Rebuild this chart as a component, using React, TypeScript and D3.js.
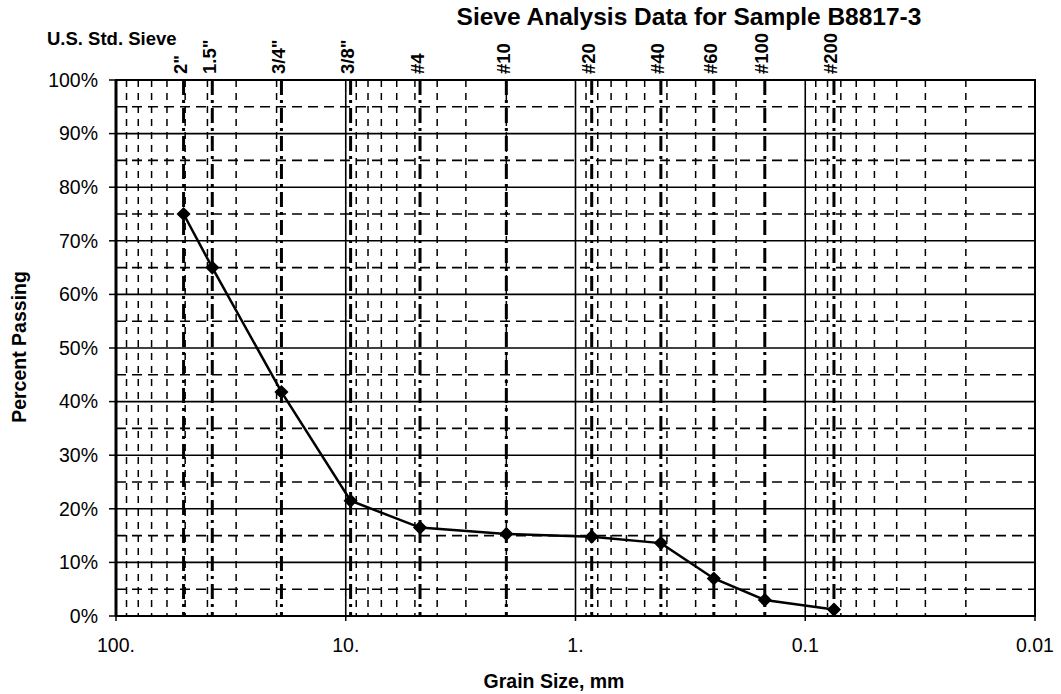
import { useEffect } from 'react';
import * as d3 from 'd3';

// sieve data
const sieveLabels = ['2"', '1.5"', '3/4"', '3/8"', '#4', '#10', '#20', '#40', '#60', '#100', '#200'];
const sieveSizes = [50.8, 38.1, 19.05, 9.525, 4.75, 2.0, 0.85, 0.425, 0.25, 0.15, 0.075];
const percentPassing = [75, 65, 41.8, 21.5, 16.5, 15.3, 14.8, 13.6, 7.0, 3.0, 1.2];

const yTickValues = [0, 10, 20, 30, 40, 50, 60, 70, 80, 90, 100];
const xTickValues = [100, 10, 1, 0.1, 0.01];
const xTickLabels = ['100.', '10.', '1.', '0.1', '0.01'];

const W = 1061;
const H = 694;
const margin = { top: 80, right: 26, bottom: 78, left: 116 };

const FONT = '"Liberation Sans", Arial, sans-serif';

const SieveChart = () => {
  useEffect(() => {
    document.body.style.margin = '0';
  }, []);

  const x = d3.scaleLog().domain([100, 0.01]).range([margin.left, W - margin.right]);
  const y = d3.scaleLinear().domain([0, 100]).range([H - margin.bottom, margin.top]);

  const [x0, x1] = x.range();
  const [y0, y1] = y.range();

  // minor log gridlines (2..9 of each decade)
  const minor: number[] = [];
  [0.01, 0.1, 1, 10].forEach(dec => {
    for (let k = 2; k <= 9; k++) minor.push(dec * k);
  });
  const halfSteps = d3.range(5, 100, 10);

  const points = sieveSizes.map((s, i) => [x(s), y(percentPassing[i])] as [number, number]);
  const line = d3.line()(points) || '';
  const diamond = d3.symbol(d3.symbolSquare, 100)() || '';

  return (
    <svg width={W} height={H} style={{ display: 'block', background: '#fff' }} fontFamily={FONT}>
      <rect width={W} height={H} fill="#fff" />

      {/* horizontal half-step dashed lines */}
      {halfSteps.map(v => (
        <line key={'h' + v} x1={x0} x2={x1} y1={y(v)} y2={y(v)}
          stroke="#000" strokeWidth={1.6} strokeDasharray="10,6" />
      ))}
      {/* minor vertical dashed lines */}
      {minor.map(v => (
        <line key={'m' + v} x1={x(v)} x2={x(v)} y1={y1} y2={y0}
          stroke="#000" strokeWidth={1.5} strokeDasharray="7,6" />
      ))}
      {/* major horizontal lines */}
      {yTickValues.map(v => (
        <line key={'H' + v} x1={x0} x2={x1} y1={y(v)} y2={y(v)} stroke="#000" strokeWidth={1.6} />
      ))}
      {/* decade lines */}
      {[10, 1, 0.1].map(v => (
        <line key={'D' + v} x1={x(v)} x2={x(v)} y1={y1} y2={y0} stroke="#000" strokeWidth={1.6} />
      ))}
      {/* sieve lines */}
      {sieveSizes.map(s => (
        <line key={'s' + s} x1={x(s)} x2={x(s)} y1={y1} y2={y0}
          stroke="#000" strokeWidth={3} strokeDasharray="15,5,3,5" />
      ))}

      {/* plot border */}
      <rect x={x0} y={y1} width={x1 - x0} height={y0 - y1} fill="none" stroke="#000" strokeWidth={2} />
      <line x1={x0} x2={x0} y1={y1} y2={y0} stroke="#000" strokeWidth={3} />

      {/* y axis ticks and labels */}
      {yTickValues.map(v => (
        <g key={'yt' + v}>
          <line x1={x0 - 7} x2={x0} y1={y(v)} y2={y(v)} stroke="#000" strokeWidth={1.5} />
          <text x={98} y={y(v)} dy="0.35em" textAnchor="end" fontSize={19.5}>{v + '%'}</text>
        </g>
      ))}

      {/* x axis ticks and labels */}
      {xTickValues.map((v, i) => (
        <g key={'xt' + v}>
          <line x1={x(v)} x2={x(v)} y1={y0} y2={y0 + 5} stroke="#000" strokeWidth={1.5} />
          <text x={x(v)} y={652} textAnchor="middle" fontSize={19.5}>{xTickLabels[i]}</text>
        </g>
      ))}

      {/* data */}
      <path d={line} fill="none" stroke="#000" strokeWidth={2.5} />
      {points.map((p, i) => (
        <path key={'p' + i} d={diamond} transform={`translate(${p[0]},${p[1]}) rotate(45)`} fill="#000" />
      ))}

      {/* sieve labels */}
      {sieveSizes.map((s, i) => (
        <text key={'sl' + s} transform={`translate(${x(s) - 3},74) rotate(-90)`}
          dominantBaseline="central" fontSize={18.5} fontWeight="bold">{sieveLabels[i]}</text>
      ))}

      <text x={47} y={45} fontSize={18.5} fontWeight="bold">U.S. Std. Sieve</text>
      <text x={689} y={25} textAnchor="middle" fontSize={24.5} fontWeight="bold">
        Sieve Analysis Data for Sample B8817-3
      </text>
      <text transform={`translate(19,347) rotate(-90)`} textAnchor="middle" dominantBaseline="central"
        fontSize={19.5} fontWeight="bold">Percent Passing</text>
      <text x={554} y={688} textAnchor="middle" fontSize={19.5} fontWeight="bold">Grain Size, mm</text>
    </svg>
  );
};

const App = () => <SieveChart />;

export default App;
